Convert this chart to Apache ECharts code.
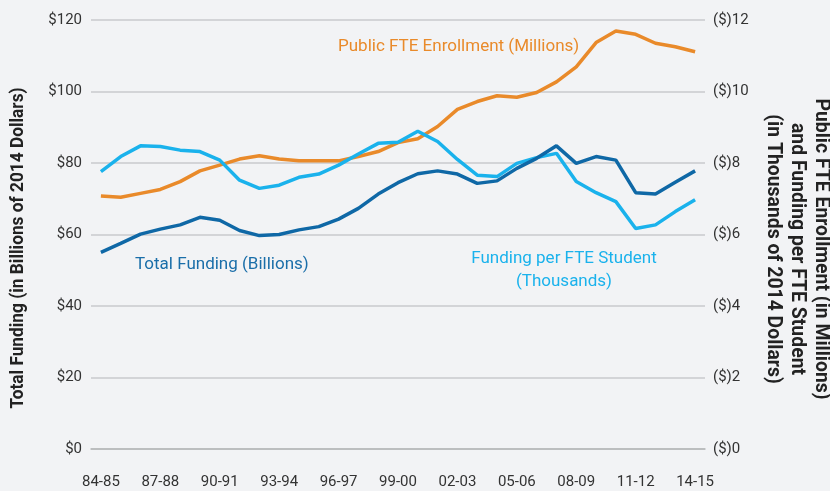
<!DOCTYPE html>
<html>
<head>
<meta charset="utf-8">
<script src="https://cdn.jsdelivr.net/npm/echarts@6/dist/echarts.min.js"></script>
<style>
  html, body { margin: 0; padding: 0; background: #f2f3f5; }
  #chart { width: 830px; height: 491px; }
</style>
</head>
<body>
<div id="chart"></div>
<script>
// school years on the x axis
var years = ['84-85', '85-86', '86-87', '87-88', '88-89', '89-90', '90-91', '91-92', '92-93', '93-94',
    '94-95', '95-96', '96-97', '97-98', '98-99', '99-00', '00-01', '01-02', '02-03', '03-04',
    '04-05', '05-06', '06-07', '07-08', '08-09', '09-10', '10-11', '11-12', '12-13', '13-14', '14-15'];

// total funding, billions of 2014 dollars (left axis)
var totalFunding = [55.0, 57.5, 60.1, 61.5, 62.7, 64.8, 64.0, 61.1, 59.7, 60.0,
    61.3, 62.2, 64.3, 67.3, 71.3, 74.5, 77.0, 77.8, 76.9, 74.3,
    75.0, 78.5, 81.3, 84.8, 79.9, 81.8, 80.8, 71.7, 71.3, 74.6, 77.8];

// public FTE enrollment, millions (right axis)
var enrollment = [7.08, 7.04, 7.15, 7.26, 7.48, 7.78, 7.94, 8.11, 8.20, 8.11,
    8.06, 8.06, 8.06, 8.18, 8.32, 8.57, 8.68, 9.02, 9.50, 9.72,
    9.88, 9.84, 9.97, 10.27, 10.69, 11.37, 11.69, 11.60, 11.35, 11.25, 11.11];

// funding per FTE student, thousands of 2014 dollars (right axis)
var perStudent = [7.76, 8.18, 8.48, 8.46, 8.36, 8.32, 8.08, 7.52, 7.29, 7.38,
    7.60, 7.69, 7.94, 8.25, 8.55, 8.58, 8.89, 8.60, 8.10, 7.66,
    7.62, 7.99, 8.15, 8.27, 7.48, 7.17, 6.92, 6.17, 6.27, 6.64, 6.97];

var leftTicks = [0, 20, 40, 60, 80, 100, 120];

var chart = echarts.init(document.getElementById('chart'));

var font = 'Roboto, "Liberation Sans", sans-serif';
var tickColor = '#333';
var gridColor = '#c9cacc';

chart.setOption({
    backgroundColor: '#f2f3f5',
    animation: false,
    grid: { left: 91, right: 125, top: 20, bottom: 42 },
    xAxis: {
        type: 'category',
        data: years,
        boundaryGap: true,
        axisLine: { lineStyle: { color: '#b5b6b8', width: 1.5 } },
        axisTick: { interval: 0, alignWithLabel: true, length: 10, lineStyle: { color: '#b5b6b8', width: 1.5 } },
        axisLabel: { interval: 2, margin: 26, color: tickColor, fontFamily: font, fontSize: 15 }
    },
    yAxis: [{
        type: 'value',
        min: leftTicks[0],
        max: leftTicks[leftTicks.length - 1],
        interval: 20,
        axisLine: { show: false },
        axisTick: { show: false },
        splitLine: { lineStyle: { color: gridColor, width: 1.5 } },
        axisLabel: { margin: 9, color: tickColor, fontFamily: font, fontSize: 15,
            formatter: function (v) { return '$' + v; } }
    }, {
        type: 'value',
        min: 0,
        max: 12,
        interval: 2,
        axisLine: { show: false },
        axisTick: { show: false },
        splitLine: { show: false },
        axisLabel: { margin: 8, color: tickColor, fontFamily: font, fontSize: 15,
            formatter: function (v) { return '($)' + v; } }
    }],
    series: [{
        name: 'Public FTE Enrollment (Millions)',
        type: 'line',
        yAxisIndex: 1,
        data: enrollment,
        symbol: 'none',
        lineStyle: { color: '#e98a2a', width: 3.5 }
    }, {
        name: 'Funding per FTE Student (Thousands)',
        type: 'line',
        yAxisIndex: 1,
        data: perStudent,
        symbol: 'none',
        lineStyle: { color: '#1ab2ec', width: 3.5 }
    }, {
        name: 'Total Funding (Billions)',
        type: 'line',
        yAxisIndex: 0,
        data: totalFunding,
        symbol: 'none',
        lineStyle: { color: '#0f68a6', width: 3.5 }
    }],
    graphic: [{
        type: 'text', x: 338, y: 47,
        style: { text: 'Public FTE Enrollment (Millions)', fill: '#e98a2a', font: '17px ' + font,
            verticalAlign: 'middle' }
    }, {
        type: 'text', x: 135, y: 265,
        style: { text: 'Total Funding (Billions)', fill: '#1a6ea9', font: '17px ' + font,
            verticalAlign: 'middle' }
    }, {
        type: 'text', x: 564, y: 270,
        style: { text: 'Funding per FTE Student\n(Thousands)', fill: '#1ab2ec', font: '17px ' + font,
            align: 'center', verticalAlign: 'middle', lineHeight: 23 }
    }, {
        type: 'text', x: 18, y: 248, rotation: Math.PI / 2, scaleX: 0.96,
        style: { text: 'Total Funding (in Billions of 2014 Dollars)', fill: '#222',
            font: 'bold 18px ' + font, align: 'center', verticalAlign: 'middle' }
    }, {
        type: 'text', x: 797, y: 249, rotation: -Math.PI / 2, scaleX: 0.97,
        style: { text: 'Public FTE Enrollment (in Millions)\nand Funding per FTE Student\n(in Thousands of 2014 Dollars)',
            fill: '#222', font: 'bold 20px ' + font, align: 'center', verticalAlign: 'middle', lineHeight: 24 }
    }]
});
</script>
</body>
</html>
